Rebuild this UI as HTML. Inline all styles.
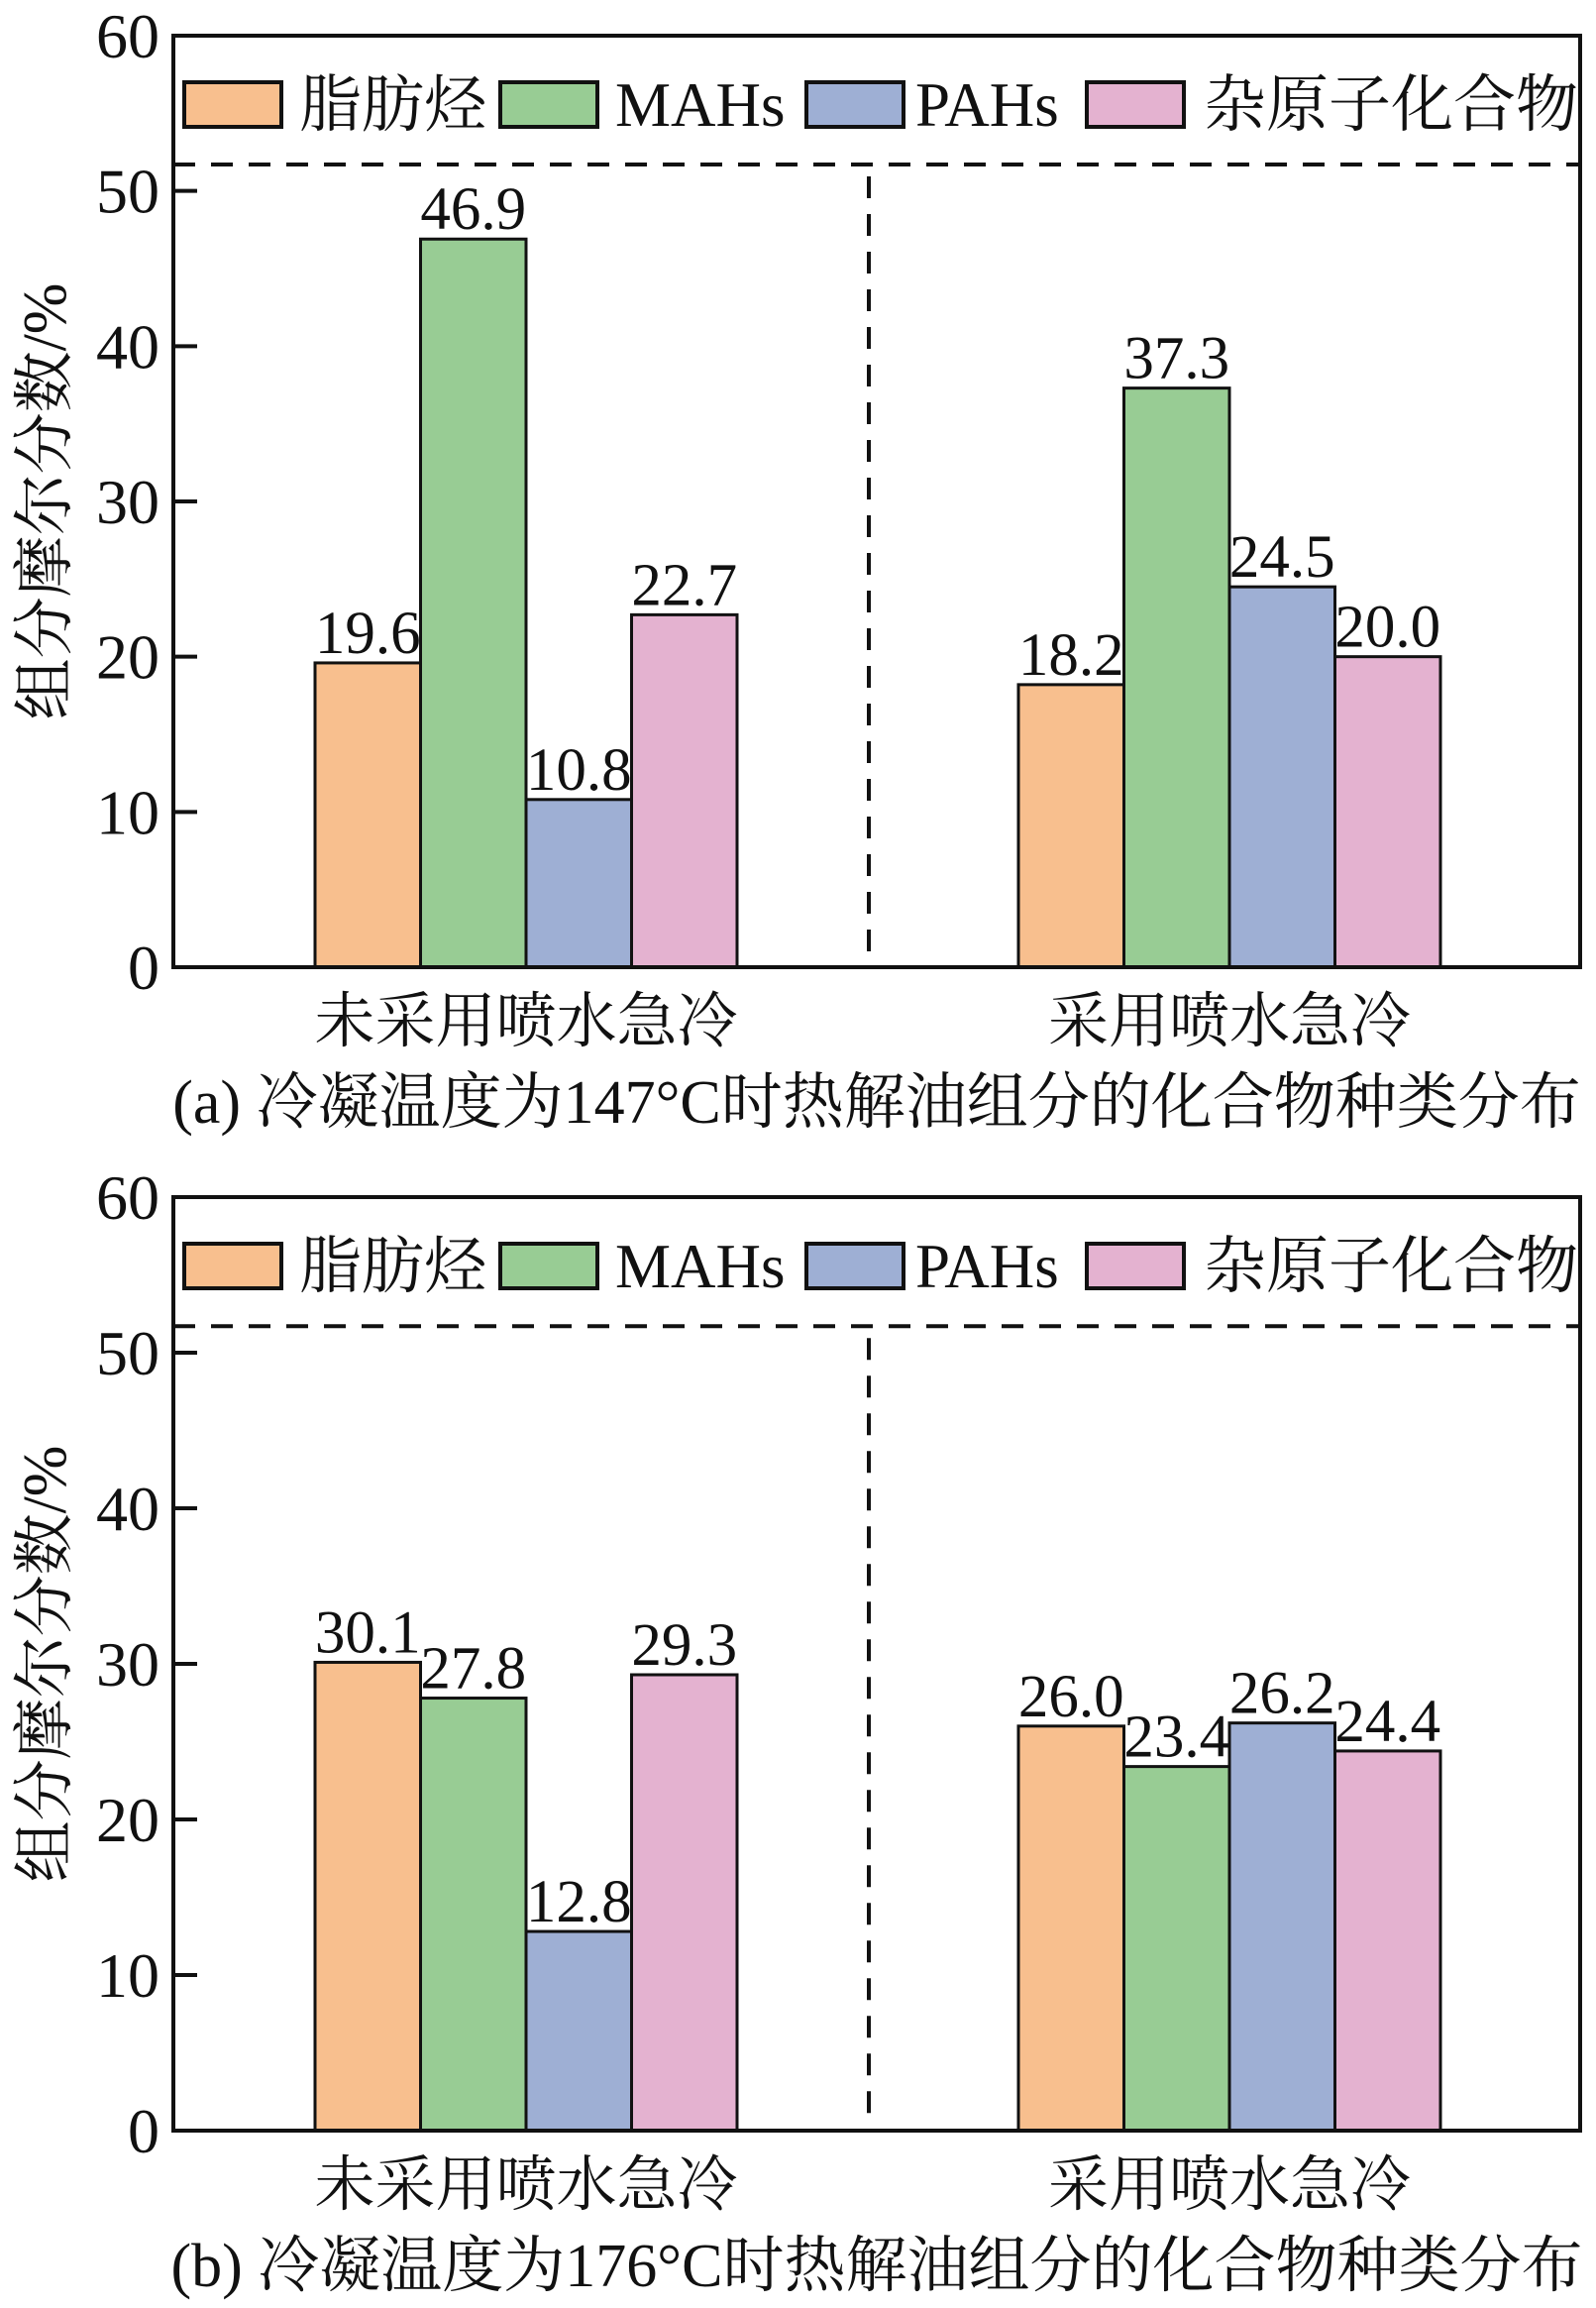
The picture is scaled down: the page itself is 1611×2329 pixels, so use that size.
<!DOCTYPE html>
<html><head><meta charset="utf-8">
<style>
html,body{margin:0;padding:0;background:#fff;}
svg{display:block;}
text{font-family:"Liberation Serif","Noto Serif CJK SC",serif;fill:#111;}
</style></head>
<body>
<svg id="chart" width="1611" height="2329" viewBox="0 0 1611 2329" xmlns="http://www.w3.org/2000/svg"></svg>
<script>
const categories = ["未采用喷水急冷", "采用喷水急冷"];
const seriesNames = ["脂肪烃", "MAHs", "PAHs", "杂原子化合物"];
const colors = ["#f8bf8e", "#98cc94", "#9eafd4", "#e4b2d0"];
const valuesA = [[19.6, 46.9, 10.8, 22.7], [18.2, 37.3, 24.5, 20.0]];
const valuesB = [[30.1, 27.8, 12.8, 29.3], [26.0, 23.4, 26.2, 24.4]];
const yTicks = [0, 10, 20, 30, 40, 50, 60];
const captions = ["(a) 冷凝温度为147°C时热解油组分的化合物种类分布", "(b) 冷凝温度为176°C时热解油组分的化合物种类分布"];
const dashY = 51.7;

const svg = document.getElementById('chart');
const NS = "http://www.w3.org/2000/svg";
function mk(tag, attrs, parent){const e=document.createElementNS(NS,tag);for(const k in attrs)e.setAttribute(k,attrs[k]);(parent||svg).appendChild(e);return e;}

const L=175, R=1595;
const groupStart=[318,1028], barW=106.5;
const legendBoxX=[186,505,814,1097], legendTextX=[302,621,924,1215];

function panel(top, bottom, values, caption, tag){
  const g = mk('g',{});
  
  
  const y = v => bottom - (bottom-top)*v/60;
  values.forEach((grp,gi)=>{
    grp.forEach((v,si)=>{
      const x = groupStart[gi] + si*barW;
      const r = mk('rect',{x:x,y:y(v),width:barW,height:bottom-y(v),fill:colors[si],stroke:'#111','stroke-width':3},g);
      
      
      const t = mk('text',{x:x+barW/2,y:y(v)-10,'text-anchor':'middle','font-size':61},g);
      t.textContent = v.toFixed(1);
      
      
    });
  });
  const dl = mk('line',{x1:L,x2:R,y1:y(dashY),y2:y(dashY),stroke:'#111','stroke-width':4,'stroke-dasharray':'22 16'},g);
  
  
  const vx=877;
  const dv = mk('line',{x1:vx,x2:vx,y1:y(dashY)+12,y2:bottom,stroke:'#111','stroke-width':4,'stroke-dasharray':'22 16'},g);
  
  
  const box = mk('rect',{x:L,y:top,width:R-L,height:bottom-top,fill:'none',stroke:'#111','stroke-width':4},g);
  
  
  yTicks.forEach(v=>{
    mk('line',{x1:L,x2:L+24,y1:y(v),y2:y(v),stroke:'#111','stroke-width':4},g);
    const t = mk('text',{x:L-14,y:y(v)+22,'text-anchor':'end','font-size':64},g);
    t.textContent=v;
    
    
  });
  const cy=(top+bottom)/2;
  const yt = mk('text',{x:0,y:0,'text-anchor':'middle','font-size':62,transform:'translate(66,'+cy+') rotate(-90)'},g);
  yt.textContent='组分摩尔分数/%';
  
  
  categories.forEach((c,i)=>{
    const t = mk('text',{x:groupStart[i]+2*barW,y:bottom+75,'text-anchor':'middle','font-size':61},g);
    t.textContent=c;
    
    
  });
  const cap = mk('text',{x:885,y:bottom+157,'text-anchor':'middle','font-size':62},g);
  cap.textContent=caption;
  
  
  const ly = top + 47;
  seriesNames.forEach((n,i)=>{
    const lb = mk('rect',{x:legendBoxX[i],y:ly,width:98,height:45,fill:colors[i],stroke:'#111','stroke-width':4},g);
    
    
    const lt = mk('text',{x:legendTextX[i],y:ly+44,'font-size':63},g);
    lt.textContent=n;
    
    
  });
}
panel(36, 976, valuesA, captions[0], 'a');
panel(1208, 2150, valuesB, captions[1], 'b');
</script>
</body></html>
